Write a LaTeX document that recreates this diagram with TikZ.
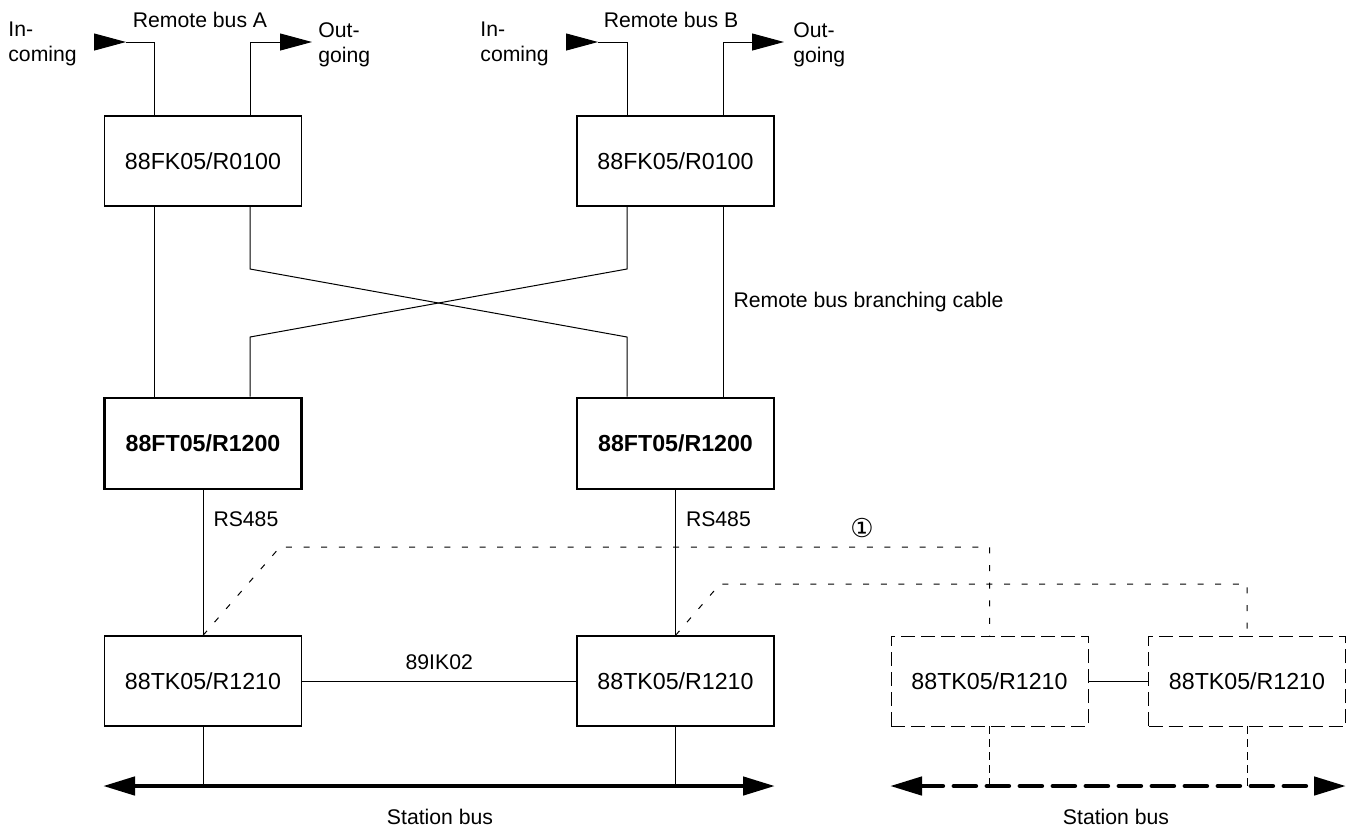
\documentclass[tikz,border=0pt]{standalone}
\usepackage{fontspec}
\setmainfont{Liberation Sans}
\newfontfamily\symfont{DejaVu Sans}
\usepackage{tikz}
\usetikzlibrary{arrows.meta, positioning}

\begin{document}
\begin{tikzpicture}[x=0.5pt, y=-0.5pt,
    unit/.style={draw, line width=0.6pt, minimum width=98.5pt, minimum height=45pt, inner sep=0pt, font=\fontsize{11.6}{14}\selectfont},
    master/.style={unit, line width=1.4pt, minimum height=45.5pt, font=\fontsize{11.6}{14}\selectfont\bfseries},
    spare/.style={unit, line width=0.45pt, dash pattern=on 7pt off 3pt},
    lbl/.style={font=\fontsize{10.6}{12.5}\selectfont, inner sep=0pt},
    wire/.style={line width=0.5pt},
    feed/.style={wire, -{Triangle[length=16pt, width=8.5pt]}},
    link/.style={wire, dash pattern=on 3pt off 5.8pt},
    drop/.style={wire, dash pattern=on 4pt off 2.5pt},
    bus/.style={line width=2.3pt, {Triangle[length=16pt, width=9pt]}-{Triangle[length=16pt, width=9pt]}},
    sparebus/.style={bus, line cap=round, dash pattern=on 11pt off 5.5pt}]
    \useasboundingbox (0,0) rectangle (1355,827);

    % Couplers
    \node[unit] (fkA) at (203,161) {88FK05/R0100};
    \node[unit] (fkB) at (675.5,161) {88FK05/R0100};
    \node[master] (ftA) at (203,443.5) {88FT05/R1200};
    \node[master] (ftB) at (675.5,443.5) {88FT05/R1200};
    \node[unit] (tkA) at (203,681) {88TK05/R1210};
    \node[unit] (tkB) at (675.5,681) {88TK05/R1210};
    \node[spare] (tkC) at (989.5,681) {88TK05/R1210};
    \node[spare] (tkD) at (1247,681) {88TK05/R1210};

    % Remote bus ends
    \coordinate (inA) at (94,42);
    \coordinate (kneeA) at (154,42);
    \coordinate (tapA) at (250,42);
    \coordinate (outA) at (312,42);
    \coordinate (inB) at (566,42);
    \coordinate (kneeB) at (627,42);
    \coordinate (tapB) at (723,42);
    \coordinate (outB) at (784,42);

    \draw[feed] (inA) -- ++(32,0);
    \draw[wire] ([xshift=16pt]inA) -- (kneeA) -- (kneeA |- fkA.north);
    \draw[feed] (tapA |- fkA.north) -- (tapA) -- (outA);
    \draw[feed] (inB) -- ++(32,0);
    \draw[wire] ([xshift=16pt]inB) -- (kneeB) -- (kneeB |- fkB.north);
    \draw[feed] (tapB |- fkB.north) -- (tapB) -- (outB);

    \node[lbl] (rbA) at (200,20) {Remote bus A};
    \node[lbl] (rbB) at (671,20) {Remote bus B};
    \node[lbl, align=left, anchor=north west] (incA) at (8,22) {In-\\coming};
    \node[lbl, align=left, anchor=north west] (outgA) at (318,22) {Out-\\going};
    \node[lbl, align=left, anchor=north west] (incB) at (480,22) {In-\\coming};
    \node[lbl, align=left, anchor=north west] (outgB) at (793,22) {Out-\\going};

    % Branching cables
    \draw[wire] (kneeA |- fkA.south) -- (kneeA |- ftA.north);
    \draw[wire] (tapA |- fkA.south) -- (250,269) -- (627,337) -- (kneeB |- ftB.north);
    \draw[wire] (kneeB |- fkB.south) -- (627,269) -- (250,337) -- (tapA |- ftA.north);
    \draw[wire] (tapB |- fkB.south) -- node[lbl, right=5pt]{Remote bus branching cable} (tapB |- ftB.north);

    % RS485 and couplings
    \draw[wire] (ftA) -- node[lbl, right=5pt, pos=0.2]{RS485} (tkA);
    \draw[wire] (ftB) -- node[lbl, right=5pt, pos=0.2]{RS485} (tkB);
    \draw[wire] (tkA) -- node[lbl, above=5.5pt]{89IK02} (tkB);
    \draw[wire] (tkC) -- (tkD);
    \draw[link] (tkA.north) -- (280,547) -| (tkC.north);
    \draw[link] (tkB.north) -- (720,584) -| (tkD.north);
    \node[font=\symfont\fontsize{13}{15}\selectfont, inner sep=0pt] (note) at (862,528) {①};

    % Station buses
    \coordinate (busAl) at (103,786);
    \coordinate (busAr) at (775,786);
    \coordinate (busBl) at (890,786);
    \coordinate (busBr) at (1346,786);
    \draw[wire] (tkA.south) -- (tkA.south |- busAl);
    \draw[wire] (tkB.south) -- (tkB.south |- busAl);
    \draw[drop] (tkC.south) -- (tkC.south |- busBl);
    \draw[drop] (tkD.south) -- (tkD.south |- busBl);
    \draw[bus] (busAl) -- (busAr);
    \draw[sparebus] (busBl) -- (busBr);
    \node[lbl] (sbA) at (440,817) {Station bus};
    \node[lbl] (sbB) at (1116,817) {Station bus};
\end{tikzpicture}
\end{document}
